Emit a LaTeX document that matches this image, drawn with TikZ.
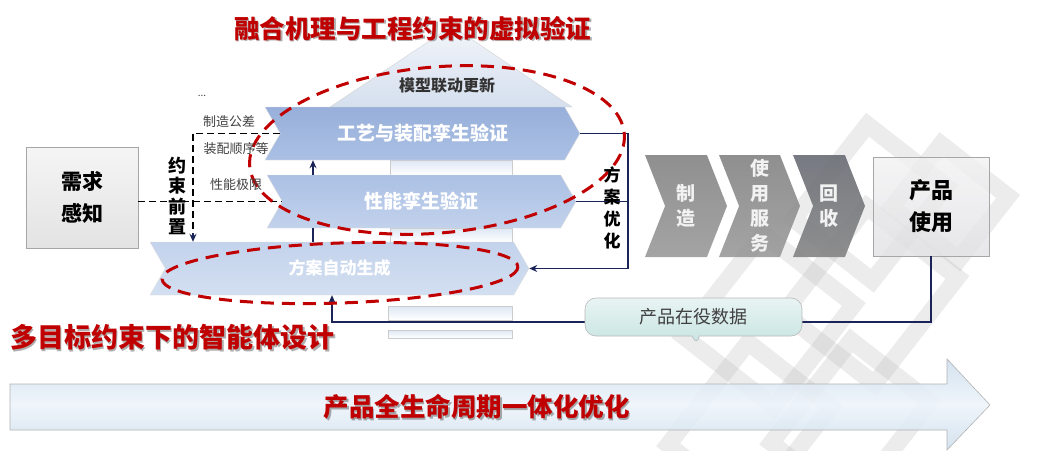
\documentclass[tikz,border=0pt]{standalone}
\usepackage{fontspec}
\setmainfont{Noto Sans CJK SC}
\usetikzlibrary{shapes.symbols,shapes.callouts,arrows.meta}
\definecolor{navy}{HTML}{1B2459}
\definecolor{dred}{HTML}{C00000}
\definecolor{bluA}{HTML}{97AFDA}
\definecolor{bluB}{HTML}{C2D2EC}
\definecolor{bluC}{HTML}{ABC0E4}
\definecolor{bluD}{HTML}{D3DFF1}
\definecolor{bluE}{HTML}{C3D3EC}
\definecolor{bluF}{HTML}{DDE7F4}
\definecolor{triA}{HTML}{D5DFEE}
\definecolor{triB}{HTML}{F2F5FA}
\definecolor{grA}{HTML}{868686}
\definecolor{grB}{HTML}{9C9C9C}
\definecolor{grC}{HTML}{6C6F77}
\definecolor{tealA}{HTML}{C5E3E0}
\definecolor{tealB}{HTML}{E8F4F3}
\definecolor{arrA}{HTML}{CFDFEE}
\definecolor{arrB}{HTML}{EEF4FA}
\begin{document}
\begin{tikzpicture}[x=1pt,y=-1pt,
  chev/.style={signal, signal from=west, signal to=east, signal pointer angle=120,
     inner sep=0pt, minimum height=53, draw=white!75!gray, line width=0.4pt,
     text=white, font=\fontsize{19}{19}\selectfont\bfseries},
  gchev/.style={signal, signal from=west, signal to=east, signal pointer angle=137,
     inner sep=0pt, minimum height=102, text=white!90!gray, align=center,
     font=\fontsize{19}{25}\selectfont\bfseries},
  sqbox/.style={draw=gray!70, line width=0.6pt, align=center, inner sep=0pt,
     font=\fontsize{21}{32}\selectfont\bfseries},
  gaprect/.style={draw=gray!40, line width=0.4pt, top color=bluF, bottom color=white},
  lbl/.style={font=\fontsize{13}{13}\selectfont, text=black!75, inner sep=0pt},
  vtxt/.style={align=center, inner sep=0pt, font=\fontsize{18}{20.5}\selectfont\bfseries},
  navyline/.style={draw=navy, line width=1.8pt},
  blkdash/.style={draw=black, line width=1.5pt, dash pattern=on 7pt off 4pt},
  reddash/.style={draw=dred, line width=3pt, dash pattern=on 13pt off 8pt},
  redtitle/.style={text=dred, inner sep=0pt, font=\fontsize{25.5}{26}\selectfont\bfseries},
  redshadow/.style={text=black!70, opacity=0.45, inner sep=0pt, font=\fontsize{25.5}{26}\selectfont\bfseries},
  wm/.style={draw=gray!55, line width=17pt, opacity=0.28},
  tip/.style={-{Stealth[length=8pt,width=7pt]}}
]
\useasboundingbox (0,0) rectangle (1038,450);

% ---------- watermark lattice ----------
\begin{scope}[shift={(832,300)},rotate=52]
  \draw[wm] (-215,-40) rectangle (-85,65);
  \draw[wm] (-120,-95) rectangle (10,20);
  \draw[wm] (-40,-30) rectangle (95,85);
  \draw[wm] (40,-80) rectangle (160,20);
  \draw[wm] (-150,40) rectangle (-20,140);
  \draw[wm] (110,-10) rectangle (190,75);
\end{scope}

% ---------- bottom big arrow ----------
\path[draw=gray!60, line width=0.6pt, top color=arrA, bottom color=arrA, middle color=arrB, fill opacity=0.9]
  (10,384) -- (947,384) -- (947,359) -- (990,405) -- (947,450) -- (947,430) -- (10,430) -- cycle;

% ---------- gap bars ----------
\path[gaprect] (390,160) rectangle (512,175);
\path[gaprect] (390,228) rectangle (512,242);
\path[gaprect] (388,306) rectangle (512,320);
\path[gaprect] (388,330) rectangle (512,338);

% ---------- pyramid top ----------
\path[top color=triB, bottom color=triA, draw=gray!35, line width=0.4pt]
  (330,107) -- (452,26) -- (572,107) -- cycle;
\node[inner sep=0pt, font=\fontsize{16}{16}\selectfont\bfseries, text=black!80] (upd) at (447,85) {模型联动更新};

% ---------- blue chevrons ----------
\node[chev, minimum width=315, top color=bluA, bottom color=bluC] (c1) at (422.5,133.5) {工艺与装配孪生验证};
\node[chev, minimum width=309, top color=bluC, bottom color=bluB] (c2) at (421.5,201.5) {性能孪生验证};
\node[chev, minimum width=379, top color=bluE, bottom color=bluD,
      font=\fontsize{17}{17}\selectfont\bfseries] (c3) at (339.5,268.5) {方案自动生成};

% ---------- gray chevrons ----------
\node[gchev, minimum width=82, top color=grA, bottom color=grB, fill opacity=0.92, text opacity=1] (g1) at (686,206) {制\\造};
\node[gchev, minimum width=81, top color=grA, bottom color=grB, fill opacity=0.92, text opacity=1] (g2) at (759.5,206) {使\\用\\服\\务};
\node[gchev, minimum width=72, top color=grC, bottom color=grA, fill opacity=0.92, text opacity=1] (g3) at (829,206) {回\\收};

% ---------- boxes ----------
\node[sqbox, minimum width=112, minimum height=101, top color=gray!8, bottom color=gray!22] (need) at (82,197.5) {需求\\感知};
\node[sqbox, minimum width=116, minimum height=99, top color=blue!4!gray!10, bottom color=blue!6!gray!22,
      fill opacity=0.8, text opacity=1, font=\fontsize{22}{32}\selectfont\bfseries] (use) at (931,206.5) {产品\\使用};

% ---------- helper coordinates ----------
\coordinate (vx) at (313,0);
\coordinate (rx) at (628,0);
\coordinate (dx) at (193,0);
\coordinate (fy) at (0,322);
\coordinate (fx) at (332,0);

% ---------- connectors ----------
\draw[navyline] (vx |- c3.north) -- (vx |- c2.south);
\draw[navyline, tip] (vx |- c2.north) -- (vx |- c1.south);
\draw[navyline, tip] (c1.east) -- (rx |- c1.east) -- (rx |- c3.east) -- (c3.east);
\draw[navyline] (c2.east) -- (rx |- c2.east);
\draw[navyline, tip] (use.south) -- (use.south |- fy) -- (fx |- fy) -- (fx |- c3.south);

\draw[blkdash] (need.east |- c2.west) -- (c2.west);
\draw[blkdash] (c1.west) -- (dx |- c1.west) -- ([yshift=8pt]dx |- c3.north);
\draw[navy, line width=1.4pt, tip] ([yshift=9pt]dx |- c3.north) -- (dx |- c3.north);

% ---------- callout ----------
\node[rectangle callout, rounded corners=11pt, minimum width=217, minimum height=38, inner sep=0pt,
      draw=gray!55, line width=0.6pt, top color=tealB, bottom color=tealA,
      callout absolute pointer={(697,347)},
      font=\fontsize{18}{18}\selectfont, text=black!75] (data) at (693.5,317) {产品在役数据};

% ---------- red dashed ellipses ----------
\draw[reddash, rotate around={5:(437,150)}] (437,150) ellipse [x radius=188, y radius=83];
\draw[reddash, rotate around={2:(340,273)}] (340,273) ellipse [x radius=178, y radius=30];

% ---------- side labels ----------
\node[lbl, font=\fontsize{10}{10}\selectfont] (dots) at (202,96) {...};
\node[lbl] (l1) at (229,122) {制造公差};
\node[lbl] (l2) at (236,149) {装配顺序等};
\node[lbl] (l3) at (236,185) {性能极限};
\node[vtxt] (yq) at (177,196) {约\\束\\前\\置};
\node[vtxt, font=\fontsize{17}{22}\selectfont\bfseries] (fa) at (612,208) {方\\案\\优\\化};

% ---------- red titles ----------
\node[redshadow] at (414,30) {融合机理与工程约束的虚拟验证};
\node[redtitle] (t1) at (412.5,28.5) {融合机理与工程约束的虚拟验证};
\node[redshadow, font=\fontsize{27}{27}\selectfont\bfseries] at (174,339) {多目标约束下的智能体设计};
\node[redtitle, font=\fontsize{27}{27}\selectfont\bfseries] (t2) at (172.5,337.5) {多目标约束下的智能体设计};
\node[redshadow] at (478,408.5) {产品全生命周期一体化优化};
\node[redtitle] (t3) at (476.5,407) {产品全生命周期一体化优化};
\end{tikzpicture}
\end{document}
